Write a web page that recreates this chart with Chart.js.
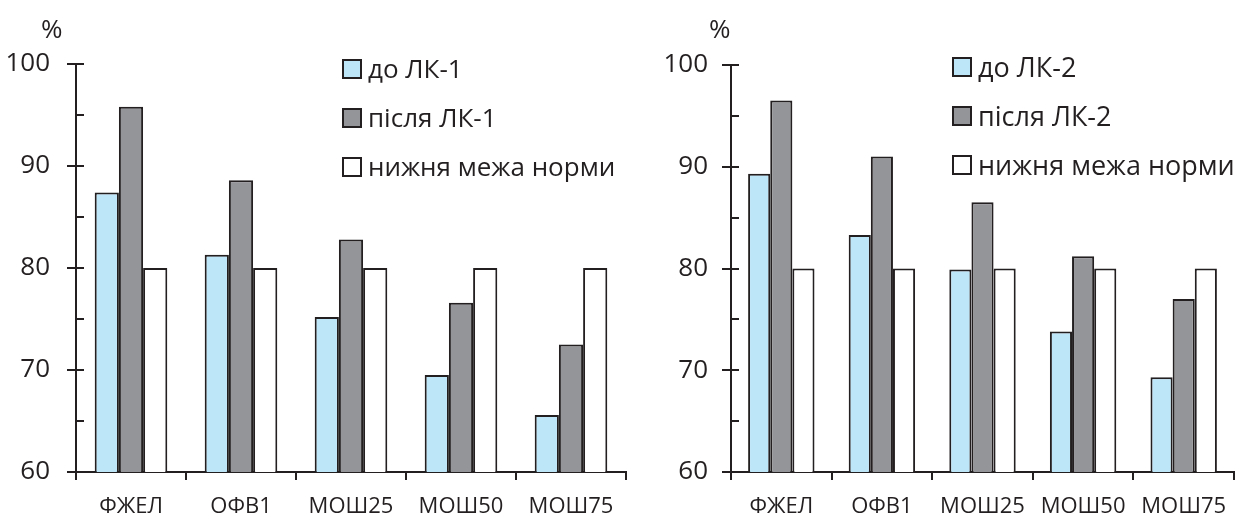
<!DOCTYPE html>
<html>
<head>
<meta charset="utf-8">
<script src="https://cdn.jsdelivr.net/npm/chart.js@4/dist/chart.umd.min.js"></script>
<style>
  body { margin: 0; background: #fff; font-family: "Open Sans", sans-serif; color: #231f20; }
  #wrap { position: relative; width: 1247px; height: 520px; }
  canvas { position: absolute; top: 0; }
  .pct { position: absolute; top: 10px; font-size: 26px; }
  .legend { position: absolute; font-size: 26px; line-height: 49px; }
  .legend div { display: flex; align-items: center; white-space: nowrap; }
  .legend span { display: inline-block; width: 16px; height: 16px; border: 2px solid #231f20; margin-right: 6px; }
</style>
</head>
<body>
<div id="wrap">
  <canvas id="c1" width="640" height="520" style="left:0"></canvas>
  <canvas id="c2" width="607" height="520" style="left:640px"></canvas>
  <div class="pct" style="left:41px">%</div>
  <div class="pct" style="left:709px">%</div>
  <div class="legend" id="leg1" style="left:342px; top:44px"></div>
  <div class="legend" id="leg2" style="left:952px; top:42px; font-size:27px"></div>
</div>
<script>
const categories = ["ФЖЕЛ", "ОФВ1", "МОШ25", "МОШ50", "МОШ75"]
const yTicks = [60, 70, 80, 90, 100]

const doLK1 = [87.4, 81.3, 75.2, 69.5, 65.6]
const pislyaLK1 = [95.8, 88.6, 82.8, 76.6, 72.5]
const doLK2 = [89.3, 83.3, 79.9, 73.8, 69.3]
const pislyaLK2 = [96.5, 91.0, 86.5, 81.2, 77.0]
const norma = [80, 80, 80, 80, 80]

const ink = "#231f20"
const colBlue = "#bde6f9"
const colGray = "#939598"
const colWhite = "#ffffff"

// ticks on the y axis: long ones at labels, short ones between
const yTickMarks = {
  id: "yTickMarks",
  afterDraw(chart) {
    const y = chart.scales.y
    const ctx = chart.ctx
    const x0 = chart.chartArea.left
    ctx.save()
    ctx.strokeStyle = ink
    ctx.lineWidth = 2
    for (let v = y.min; v <= y.max; v += 5) {
      const py = Math.round(y.getPixelForValue(v))
      const major = yTicks.includes(v)
      ctx.beginPath()
      ctx.moveTo(major ? x0 - 9 : x0, py)
      ctx.lineTo(x0 + 8, py)
      ctx.stroke()
    }
    ctx.restore()
  }
}

function makeChart(id, before, after, yWidth, labelPad, pad) {
  const names = id == "c1" ? ["до ЛК-1", "після ЛК-1"] : ["до ЛК-2", "після ЛК-2"]
  const ds = (label, data, color) => ({
    label: label,
    data: data,
    backgroundColor: color,
    borderColor: ink,
    borderWidth: 2,
    categoryPercentage: 0.66,
    barPercentage: 1,
  })
  return new Chart(document.getElementById(id), {
    type: "bar",
    data: {
      labels: categories,
      datasets: [
        ds(names[0], before, colBlue),
        ds(names[1], after, colGray),
        ds("нижня межа норми", norma, colWhite),
      ],
    },
    options: {
      responsive: false,
      animation: false,
      layout: { padding: pad },
      plugins: { legend: { display: false }, tooltip: { enabled: false } },
      scales: {
        x: {
          grid: { display: true, drawOnChartArea: false, offset: true, tickLength: 8, color: ink, lineWidth: 2 },
          border: { display: true, color: ink, width: 2 },
          ticks: { color: ink, font: { family: "Open Sans", size: 22 }, padding: 14 },
          afterFit: (s) => { s.height = 48 },
        },
        y: {
          min: 60,
          max: 100,
          grid: { display: false },
          border: { display: true, color: ink, width: 2 },
          ticks: {
            stepSize: 10,
            color: ink,
            padding: labelPad,
            font: { family: "Open Sans", size: 26 },
          },
          afterFit: (s) => { s.width = yWidth },
        },
      },
    },
    plugins: [yTickMarks],
  })
}

makeChart("c1", doLK1, pislyaLK1, 76, 18, { top: 64, right: 14, left: 0, bottom: 0 })
makeChart("c2", doLK2, pislyaLK2, 91, 15, { top: 65, right: 13, left: 0, bottom: 0 })

function legend(id, names) {
  const cols = [colBlue, colGray, colWhite]
  document.getElementById(id).innerHTML = names
    .map((n, i) => `<div><span style="background:${cols[i]}"></span>${n}</div>`)
    .join("")
}
legend("leg1", ["до ЛК-1", "після ЛК-1", "нижня межа норми"])
legend("leg2", ["до ЛК-2", "після ЛК-2", "нижня межа норми"])
</script>
</body>
</html>
